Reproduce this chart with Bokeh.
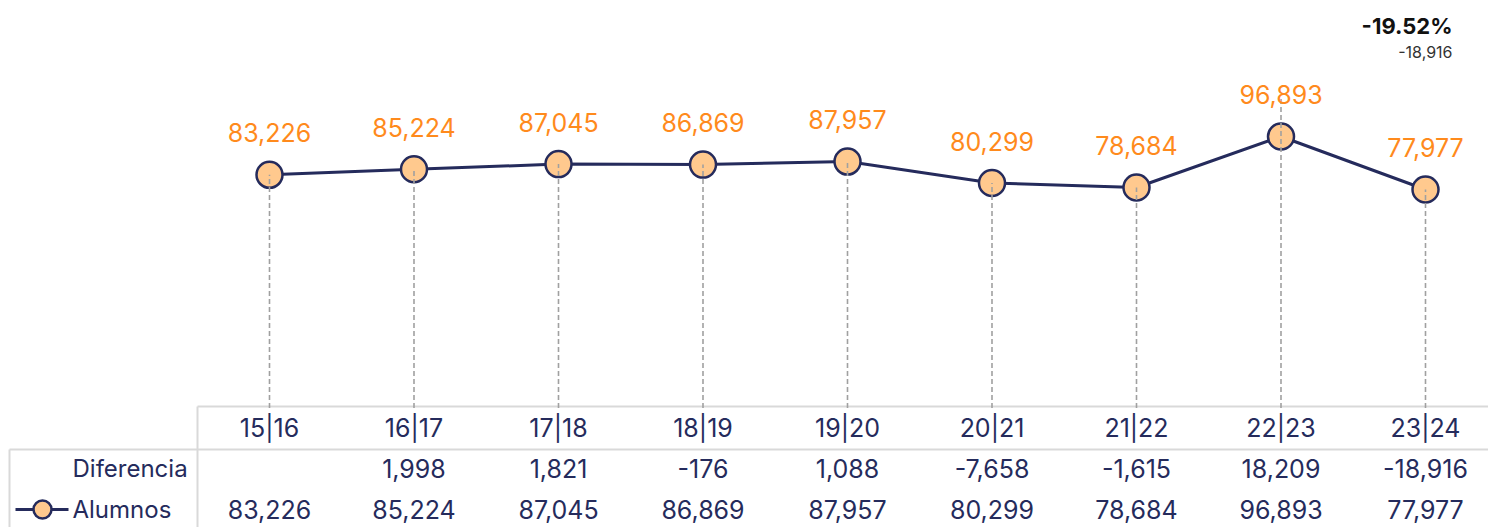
from bokeh.plotting import figure
from bokeh.models import Range1d, ColumnDataSource
from bokeh.core.properties import value
from bokeh.embed import file_html
from bokeh.resources import INLINE

# ---- data ----
cursos = ["15|16", "16|17", "17|18", "18|19", "19|20", "20|21", "21|22", "22|23", "23|24"]
alumnos = [83226, 85224, 87045, 86869, 87957, 80299, 78684, 96893, 77977]
diferencia = [None, 1998, 1821, -176, 1088, -7658, -1615, 18209, -18916]
row_labels = ["Diferencia", "Alumnos"]

# ---- layout helpers (picture pixels -> data units) ----
W, H = 1488, 527
LEFT, TOP = 0, 0
COL0, COLW = 269.0, 144.5          # x of first column centre, column width
ZERO_Y, UNITS_PER_PX = 407.5, 356.9  # y of value 0, value units per pixel


def px(page_x):
    return (page_x - COL0) / COLW


def py(page_y):
    return (ZERO_Y - page_y) * UNITS_PER_PX


NAVY = "#252B5C"
ORANGE = "#FF8A1C"
FILL = "#FFC98E"
GRID = "#D9D9D9"
DASH = "#A0A0A0"
FONT = value("Inter")

p = figure(width=W, height=H, output_backend="svg", toolbar_location=None,
           x_range=Range1d(px(LEFT), px(LEFT + W)),
           y_range=Range1d(py(TOP + H), py(TOP)),
           x_axis_location=None, y_axis_location=None,
           min_border=0, min_border_left=0, min_border_right=0,
           min_border_top=0, min_border_bottom=0)
p.grid.visible = False
p.outline_line_color = None
p.background_fill_color = "white"
p.border_fill_color = "white"

idx = list(range(len(cursos)))
x_right = px(LEFT + W)

# ---- table lines ----
p.segment(x0=[px(197), px(9)], y0=[py(406), py(449)], x1=[x_right, x_right], y1=[py(406), py(449)],
          line_color=GRID, line_width=2)
p.segment(x0=[px(197), px(9)], y0=[py(406), py(449)], x1=[px(197), px(9)], y1=[py(TOP + H), py(TOP + H)],
          line_color=GRID, line_width=2)

# ---- line + markers ----
src = ColumnDataSource(dict(x=idx, y=alumnos, lab=[f"{v:,}" for v in alumnos]))
p.line("x", "y", source=src, line_color=NAVY, line_width=3)
p.scatter("x", "y", source=src, size=26, fill_color=FILL, line_color=NAVY, line_width=2.5)

# ---- dashed drop lines (drawn over markers) ----
imax = alumnos.index(max(alumnos))
tops = [v for v in alumnos]
tops[imax] = py(97)
p.segment(x0=idx, y0=[0] * len(idx), x1=idx, y1=tops, line_color=DASH, line_width=1.6, line_dash="5 3")

# ---- value labels ----
p.text("x", "y", text="lab", source=src, text_color=ORANGE, text_font=FONT, text_font_size="25px",
       text_align="center", text_baseline="middle", y_offset=-42)

# ---- table header ----
p.text(x=idx, y=[py(427)] * len(idx), text=cursos, text_color=NAVY, text_font=FONT,
       text_font_size="25px", text_align="center", text_baseline="middle")

# ---- table rows ----
dx = [i for i, d in enumerate(diferencia) if d is not None]
dt = [f"{d:,}" for d in diferencia if d is not None]
p.text(x=dx, y=[py(468)] * len(dx), text=dt, text_color=NAVY, text_font=FONT,
       text_font_size="25px", text_align="center", text_baseline="middle")
p.text(x=idx, y=[py(509)] * len(idx), text=[f"{v:,}" for v in alumnos], text_color=NAVY,
       text_font=FONT, text_font_size="25px", text_align="center", text_baseline="middle")

# row labels
p.text(x=[px(72), px(72)], y=[py(468), py(509)], text=row_labels, text_color=NAVY, text_font=FONT,
       text_font_size="24px", text_align="left", text_baseline="middle")

# legend glyph
p.line(x=[px(15), px(68)], y=[py(509), py(509)], line_color=NAVY, line_width=3)
p.scatter(x=[px(42)], y=[py(509)], size=18, fill_color=FILL, line_color=NAVY, line_width=2.5)

# ---- top annotation ----
last_diff = diferencia[-1]
pct = last_diff / alumnos[-2] * 100
p.text(x=[px(1452)], y=[py(25)], text=[f"{pct:.2f}%"], text_color="#111111", text_font=FONT,
       text_font_size="22px", text_font_style="bold", text_align="right", text_baseline="middle")
p.text(x=[px(1452)], y=[py(51)], text=[f"{last_diff:,}"], text_color="#333333", text_font=FONT,
       text_font_size="16px", text_align="right", text_baseline="middle")

open("out.html", "w").write(file_html(p, INLINE))
